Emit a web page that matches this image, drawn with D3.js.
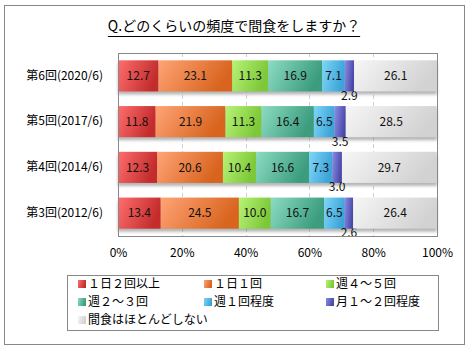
<!DOCTYPE html>
<html><head><meta charset="utf-8">
<script src="https://cdn.jsdelivr.net/npm/d3@7"></script>
<style>body{margin:0;background:#fff}svg{display:block}text{font-family:"Noto Sans CJK JP","Noto Sans",sans-serif}</style>
</head><body><svg id="c" width="470" height="350"></svg>
<script>
const categories = ["第6回(2020/6)","第5回(2017/6)","第4回(2014/6)","第3回(2012/6)"];
const seriesNames = ["１日２回以上","１日１回","週４～５回","週２～３回","週１回程度","月１～２回程度","間食はほとんどしない"];
const values = [
  [12.7,23.1,11.3,16.9,7.1,2.9,26.1],
  [11.8,21.9,11.3,16.4,6.5,3.5,28.5],
  [12.3,20.6,10.4,16.6,7.3,3.0,29.7],
  [13.4,24.5,10.0,16.7,6.5,2.6,26.4]
];
const ticks = [0,20,40,60,80,100];
const lightColors = ["#ff6e6e","#ffa476","#b8f276","#8cdcc2","#7ed6f8","#8c8ce4","#f6f6f6"];
const darkColors  = ["#c42c2c","#d8641e","#7cc838","#3c9c7e","#3ca4d8","#4848aa","#d2d2d2"];
const title = "Q.どのくらいの頻度で間食をしますか？";

const svg = d3.select("#c");
const defs = svg.append("defs");
lightColors.forEach((c,i)=>{
  const g = defs.append("linearGradient").attr("id","g"+i).attr("x1","0").attr("y1","0").attr("x2","1").attr("y2","0.3");
  g.append("stop").attr("offset","0").attr("stop-color",c);
  g.append("stop").attr("offset","1").attr("stop-color",darkColors[i]);
});
const f = defs.append("filter").attr("id","sh").attr("x","-0.1").attr("y","-0.2").attr("width","1.2").attr("height","1.6");
f.append("feGaussianBlur").attr("stdDeviation","1.5");

svg.append("rect").attr("x",4.5).attr("y",5.5).attr("width",460).attr("height",339).attr("fill","#fff").attr("stroke","#888");

const tt = svg.append("text").attr("x",234).attr("y",31).attr("text-anchor","middle").attr("font-size",14).attr("fill","#000").text(title);
const bb = tt.node().getBBox();
svg.append("line").attr("x1",bb.x).attr("x2",bb.x+bb.width).attr("y1",36.5).attr("y2",36.5).attr("stroke","#000").attr("stroke-width",1);

const x = d3.scaleLinear().domain([0,100]).range([118,437]);
const y = d3.scaleBand().domain(categories).range([53,236]).paddingInner(0.32).paddingOuter(0.16);

const grid = svg.append("g");
ticks.slice(1,-1).forEach(t=>{
  grid.append("line").attr("x1",Math.round(x(t))+0.5).attr("x2",Math.round(x(t))+0.5).attr("y1",53).attr("y2",236)
    .attr("stroke","#d0d0d0").attr("stroke-dasharray","4,3");
});

// shadows
categories.forEach((c,ci)=>{
  svg.append("rect").attr("x",x(0)).attr("y",y(c)+3).attr("width",x(100)-x(0)).attr("height",y.bandwidth())
    .attr("fill","#777").attr("opacity",0.55).attr("filter","url(#sh)");
});

categories.forEach((c,ci)=>{
  let cum=0;
  const row = values[ci];
  row.forEach((v,si)=>{
    const x0=x(cum), x1=x(cum+v);
    svg.append("rect").attr("x",x0).attr("y",y(c)).attr("width",x1-x0).attr("height",y.bandwidth()).attr("fill","url(#g"+si+")");
    const cx=(x0+x1)/2;
    const ly = si===5 ? y(c)+y.bandwidth()+4 : y(c)+y.bandwidth()/2;
    svg.append("text").attr("x",cx).attr("y",ly).attr("dy","0.36em").attr("text-anchor","middle").attr("font-size",12).attr("fill","#111")
      .text(v.toFixed(1));
    cum+=v;
  });
});

svg.append("rect").attr("x",118.5).attr("y",53.5).attr("width",319).attr("height",183).attr("fill","none").attr("stroke","#888");

const ax = svg.append("g").attr("transform","translate(0,236)").call(d3.axisBottom(x).tickValues(ticks).tickSize(0).tickPadding(12).tickFormat(d=>d+"%"));
ax.select(".domain").remove();
ax.selectAll("text").attr("font-size",12).attr("fill","#000").attr("font-family","'Noto Sans CJK JP',sans-serif");

const ay = svg.append("g").attr("transform","translate(118,0)").call(d3.axisLeft(y).tickSize(0).tickPadding(15));
ay.select(".domain").remove();
ay.selectAll("text").attr("font-size",12).attr("fill","#000").attr("font-family","'Noto Sans CJK JP',sans-serif");

// legend
svg.append("rect").attr("x",67.5).attr("y",275.5).attr("width",371).attr("height",55).attr("fill","#fff").attr("stroke","#888");
const colX=[78,204,326], rowY=[284,302,320];
seriesNames.forEach((n,i)=>{
  const cx=colX[i%3], cy=rowY[Math.floor(i/3)];
  svg.append("rect").attr("x",cx).attr("y",cy-4).attr("width",8).attr("height",8).attr("fill","url(#g"+i+")");
  svg.append("text").attr("x",cx+10).attr("y",cy).attr("dy","0.36em").attr("font-size",12).attr("fill","#000").text(n);
});
</script></body></html>
